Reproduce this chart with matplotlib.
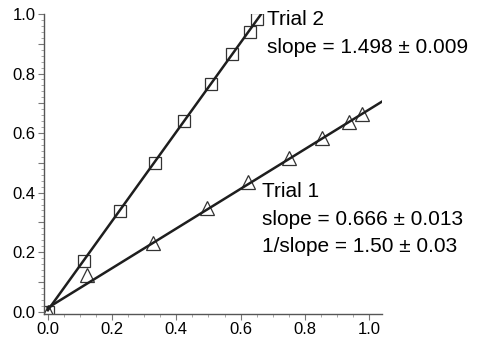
import matplotlib
matplotlib.use("Agg")
import matplotlib.pyplot as plt
from matplotlib.ticker import MultipleLocator, FuncFormatter
import numpy as np

plt.rcParams['font.family'] = ['Liberation Sans', 'DejaVu Sans']

# Trial 2 (squares)
t2_x = [0.0, 0.112, 0.224, 0.333, 0.424, 0.508, 0.573, 0.629, 0.651]
t2_y = [0.0, 0.171, 0.339, 0.500, 0.641, 0.765, 0.866, 0.940, 0.983]
t2_slope, t2_int = 1.498, 0.005

# Trial 1 (triangles)
t1_x = [0.0, 0.121, 0.327, 0.495, 0.623, 0.751, 0.854, 0.938, 0.978]
t1_y = [0.0, 0.124, 0.232, 0.349, 0.436, 0.517, 0.584, 0.638, 0.664]
t1_slope, t1_int = 0.666, 0.013

x_ticks = [0.0, 0.2, 0.4, 0.6, 0.8, 1.0]

fig = plt.figure(figsize=(4.8, 3.41), dpi=100)
ax = fig.add_axes([0.0917, 0.079, 0.704, 0.88])

line_col = '#1e1e1e'
mk_col = '#333333'

# fit lines
xa = np.array([0.0, (1.0 - t2_int) / t2_slope])
ax.plot(xa, t2_slope * xa + t2_int, color=line_col, lw=1.8, zorder=3)
xb = np.array([0.0, 1.04])
ax.plot(xb, t1_slope * xb + t1_int, color=line_col, lw=1.8, zorder=3)

ax.plot(t2_x, t2_y, ls='none', marker='s', ms=8.5, mfc='none', mec=mk_col, mew=0.9, zorder=2)
ax.plot(t1_x, t1_y, ls='none', marker='^', ms=9.5, mfc='none', mec=mk_col, mew=0.9, zorder=2)

fs = 15
ax.text(0.682, 0.980, 'Trial 2', fontsize=fs, va='center', ha='left')
ax.text(0.682, 0.886, 'slope = 1.498 \u00b1 0.009', fontsize=fs, va='center', ha='left')
ax.text(0.667, 0.403, 'Trial 1', fontsize=fs, va='center', ha='left')
ax.text(0.667, 0.309, 'slope = 0.666 \u00b1 0.013', fontsize=fs, va='center', ha='left')
ax.text(0.667, 0.218, '1/slope = 1.50 \u00b1 0.03', fontsize=fs, va='center', ha='left')

ax.set_xlim(-0.012, 1.04)
ax.set_ylim(-0.008, 1.0)

ax.set_xticks(x_ticks)
ax.xaxis.set_minor_locator(MultipleLocator(0.05))
ax.yaxis.set_major_locator(MultipleLocator(0.1))
ax.yaxis.set_major_formatter(FuncFormatter(
    lambda v, p: f'{v:.1f}' if round(v * 10) % 2 == 0 else ''))
ax.yaxis.set_minor_locator(MultipleLocator(0.02))

for s in ['top', 'right']:
    ax.spines[s].set_visible(False)
for s in ['left', 'bottom']:
    ax.spines[s].set_color('#555555')
    ax.spines[s].set_linewidth(1.0)

ax.tick_params(which='major', direction='out', length=4, width=0.8,
               color='#777777', labelsize=12, pad=2)
ax.tick_params(which='minor', direction='out', length=2.5, width=0.6,
               color='#999999')

fig.savefig('out.png', dpi=100)
